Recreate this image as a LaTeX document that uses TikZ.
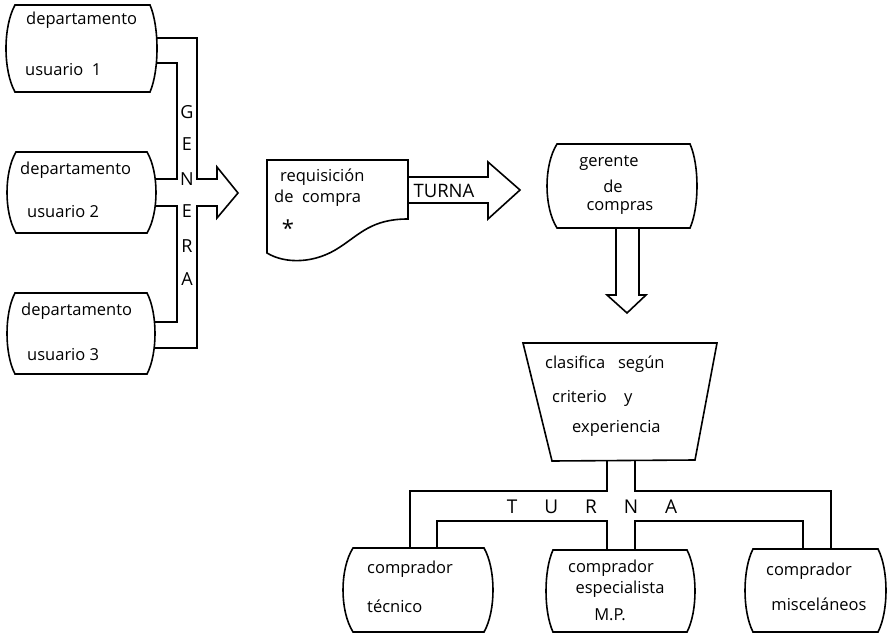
\documentclass[tikz,border=0pt]{standalone}
\usepackage{fontspec}
\setmainfont{Open Sans}
\tikzset{
  ln/.style={line width=1.6pt, line join=miter},
  txt/.style={inner sep=0pt, font=\fontsize{16.5}{18}\selectfont},
  capletter/.style={inner sep=0pt, font=\fontsize{18}{20}\selectfont},
  ghost/.style={inner sep=0pt, draw=none}
}
% barrel box: name, xleft, xright, top, bottom, bulgeL, bulgeR
\newcommand\barrelbox[7]{%
  \draw[ln] (#2,#4) -- (#3,#4)
    .. controls ({#3+4*#7/3},{#4+(#5-#4)/4}) and ({#3+4*#7/3},{#5-(#5-#4)/4}) .. (#3,#5)
    -- (#2,#5)
    .. controls ({#2-4*#6/3},{#5-(#5-#4)/4}) and ({#2-4*#6/3},{#4+(#5-#4)/4}) .. cycle;
  \node[ghost, minimum width={(#3-#2+#6+#7)*1pt}, minimum height={(#5-#4)*1pt}]
    (#1) at ({(#2-#6+#3+#7)/2},{(#4+#5)/2}) {};
}
\begin{document}
\begin{tikzpicture}[x=1pt,y=-1pt]
\useasboundingbox (0,0) rectangle (888,636);
\fill[white] (0,0) rectangle (888,636);

% ---- departamentos ----
\barrelbox{d1}{15}{150}{5}{92}{9}{7}
\barrelbox{d2}{16}{147}{152}{233}{9}{9}
\barrelbox{d3}{15}{147}{293}{374}{8}{8}
\node[txt, anchor=west] (d1a) at (26,20) {departamento};
\node[txt, anchor=west] (d1b) at (25,70) {usuario\ \ 1};
\node[txt, anchor=west] (d2a) at (20,170) {departamento};
\node[txt, anchor=west] (d2b) at (27,212) {usuario 2};
\node[txt, anchor=west] (d3a) at (21,311) {departamento};
\node[txt, anchor=west] (d3b) at (27,355) {usuario 3};

% ---- GENERA connectors ----
\coordinate (o1) at (197,38);
\coordinate (i1) at (177,63);
\coordinate (i2) at (177,179);
\coordinate (i3) at (177,206);
\coordinate (i4) at (177,322);
\coordinate (o4) at (197,348);
\draw[ln] (d1.east |- o1) -- (o1) -- (197,179) -- (217,179) -- (217,167)
  -- (238,193) coordinate (gtip) -- (217,218) -- (217,206) -- (197,206) -- (o4) -- (d3.east |- o4);
\draw[ln] (d1.east |- i1) -- (i1) -- (i2) -- (d2.east |- i2);
\draw[ln] (d2.east |- i3) -- (i3) -- (i4) -- (d3.east |- i4);
\foreach \l/\yy [count=\k] in {G/112,E/144,N/179,E/211,R/246,A/279}
  \node[capletter] (gen\k) at (187,\yy) {\l};

% ---- requisicion ----
\draw[ln] (267,160) -- (408,160) -- (408,219)
  .. controls (372,219) and (360,234) .. (340,247)
  .. controls (315,264) and (285,264) .. (267,253) -- cycle;
\node[ghost, minimum width=141pt, minimum height=93pt] (req) at (337.5,206.5) {};
\node[txt, anchor=west] (r1) at (280,177) {requisición};
\node[txt, anchor=west] (r2) at (274,198) {de\ \ compra};
\node[inner sep=0pt, font=\fontsize{22}{22}\selectfont] (r3) at (288,228) {*};

% ---- TURNA arrow ----
\coordinate (t1) at (408,177);
\coordinate (t2) at (408,203);
\draw[ln] (t1) -- (488,177) -- (488,162) -- (520,190) coordinate (ttip)
  -- (488,219) -- (488,203) -- (t2);
\node[inner sep=0pt, font=\fontsize{18.5}{18}\selectfont] (turna1) at (444,191) {TURNA};

% ---- gerente ----
\barrelbox{ger}{557}{690}{144}{228}{10}{7}
\node[txt] (g1) at (609,163) {gerente};
\node[txt] (g2) at (613,186) {de};
\node[txt] (g3) at (620,208) {compras};

% ---- down arrow ----
\draw[ln] (ger.south -| 616,0) -- (616,295) -- (607,295) -- (627,313) coordinate (dtip)
  -- (646,295) -- (639,295) -- (ger.south -| 639,0);

% ---- clasifica trapezoid ----
\draw[ln] (523,343) -- (717,343) -- (695,460) -- (552,461) -- cycle;
\node[ghost, minimum width=194pt, minimum height=118pt] (cla) at (620,402) {};
\node[txt, anchor=west] (c1) at (545,364) {clasifica\ \ \ según};
\node[txt, anchor=west] (c2) at (552,398) {criterio\ \ \ \ y};
\node[txt, anchor=west] (c3) at (572,428) {experiencia};

% ---- bottom boxes ----
\barrelbox{b1}{353}{484}{548}{632}{10}{9}
\barrelbox{b2}{553}{687}{550}{632}{7}{8}
\barrelbox{b3}{753}{878}{549}{632}{8}{8}
\node[txt, anchor=west] (b1a) at (367,569) {comprador};
\node[txt, anchor=west] (b1b) at (367,606) {técnico};
\node[txt] (b2a) at (611,568) {comprador};
\node[txt] (b2b) at (620,589) {especialista};
\node[txt] (b2c) at (610,615) {M.P.};
\node[txt] (b3a) at (809,571) {comprador};
\node[txt] (b3b) at (819,604) {misceláneos};

% ---- TURNA bracket ----
\draw[ln] (cla.south -| 607,0) -- (607,491) -- (410,491) -- (b1.north -| 410,0);
\draw[ln] (b1.north -| 437,0) -- (437,521) -- (607,521) -- (b2.north -| 607,0);
\draw[ln] (cla.south -| 635,0) -- (635,491) -- (831,491) -- (b3.north -| 831,0);
\draw[ln] (b3.north -| 803,0) -- (803,521) -- (635,521) -- (b2.north -| 635,0);
\node[inner sep=0pt, font=\fontsize{19}{19}\selectfont] (turna2) at (592,507)
  {T\hspace{27pt}U\hspace{27pt}R\hspace{27pt}N\hspace{27pt}A};
\end{tikzpicture}
\end{document}
